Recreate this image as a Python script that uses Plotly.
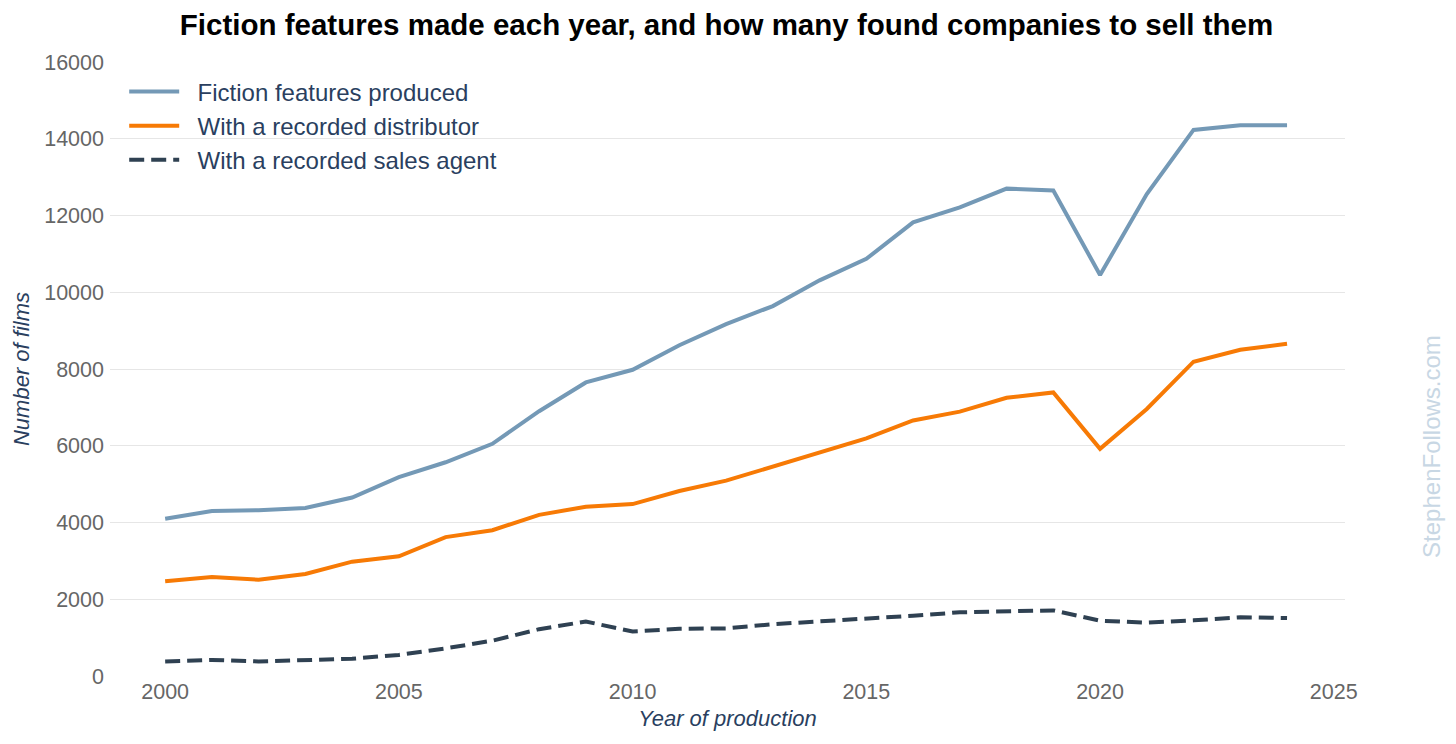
import plotly.graph_objects as go

# Data
years = list(range(2000, 2025))

features_produced = [4100, 4300, 4320, 4380, 4650, 5180, 5570, 6050, 6900, 7650,
                     7980, 8620, 9170, 9640, 10310, 10870, 11820, 12210, 12700, 12650,
                     10450, 12560, 14230, 14350, 14350]

with_distributor = [2470, 2580, 2510, 2660, 2980, 3120, 3620, 3800, 4200, 4410,
                    4480, 4820, 5090, 5460, 5840, 6190, 6660, 6890, 7250, 7390,
                    5920, 6960, 8190, 8500, 8660]

with_sales_agent = [380, 420, 380, 410, 450, 550, 720, 920, 1220, 1420,
                    1160, 1230, 1240, 1350, 1420, 1480, 1570, 1660, 1680, 1710,
                    1440, 1390, 1450, 1530, 1510]

x_ticks = [2000, 2005, 2010, 2015, 2020, 2025]
y_ticks = [0, 2000, 4000, 6000, 8000, 10000, 12000, 14000, 16000]

font_family = "Liberation Sans, Arial, sans-serif"
pad = "\u00a0\u00a0"  # a bit more room between legend line and label

fig = go.Figure()

fig.add_trace(go.Scatter(
    x=years, y=features_produced, mode="lines",
    name=pad + "Fiction features produced",
    line=dict(color="#7499b6", width=4)
))
fig.add_trace(go.Scatter(
    x=years, y=with_distributor, mode="lines",
    name=pad + "With a recorded distributor",
    line=dict(color="#f77a05", width=4)
))
fig.add_trace(go.Scatter(
    x=years, y=with_sales_agent, mode="lines",
    name=pad + "With a recorded sales agent",
    line=dict(color="#2f4152", width=4, dash="15px,7px")
))

# page body has an 8px margin, so plot margins are offset to land where the reference has them
fig.update_layout(
    width=1456,
    height=744,
    template="plotly_white",
    paper_bgcolor="white",
    plot_bgcolor="white",
    font=dict(family=font_family, size=21, color="#2a3f5f"),
    title=dict(
        text="<b>Fiction features made each year, and how many found companies to sell them</b>",
        x=0.4935, xanchor="center", y=0.978, yanchor="middle",
        font=dict(size=29.5, color="black", family=font_family)
    ),
    margin=dict(l=102, r=119, t=54, b=76),
    legend=dict(
        x=0.0115, y=0.988, xanchor="left", yanchor="top",
        bgcolor="rgba(255,255,255,0)",
        font=dict(size=24, color="#2a3f5f"),
        itemwidth=50,
        tracegroupgap=0
    ),
    showlegend=True
)

fig.update_xaxes(
    range=[1998.82, 2025.24],
    tickvals=x_ticks,
    ticktext=[str(v) for v in x_ticks],
    showgrid=False,
    zeroline=False,
    showline=False,
    tickfont=dict(size=21.5, color="#666666"),
    title=dict(text="<i>Year of production</i>", font=dict(size=22, color="#2a3f5f"), standoff=8)
)

fig.update_yaxes(
    range=[0, 16000],
    tickvals=y_ticks,
    ticktext=[str(v) for v in y_ticks],
    showgrid=True,
    gridcolor="#e6e6e6",
    zeroline=False,
    showline=False,
    tickfont=dict(size=21.5, color="#666666"),
    ticklabelstandoff=5,
    title=dict(text="<i>Number of films</i>", font=dict(size=22, color="#2a3f5f"), standoff=8)
)

# Watermark on the right side
fig.add_annotation(
    text="StephenFollows.com",
    xref="paper", yref="paper",
    x=1.0704, y=0.3746,
    xanchor="center", yanchor="middle",
    textangle=-90,
    showarrow=False,
    font=dict(size=24, color="#c8d7e4", family=font_family)
)

fig.write_html("out.html")
